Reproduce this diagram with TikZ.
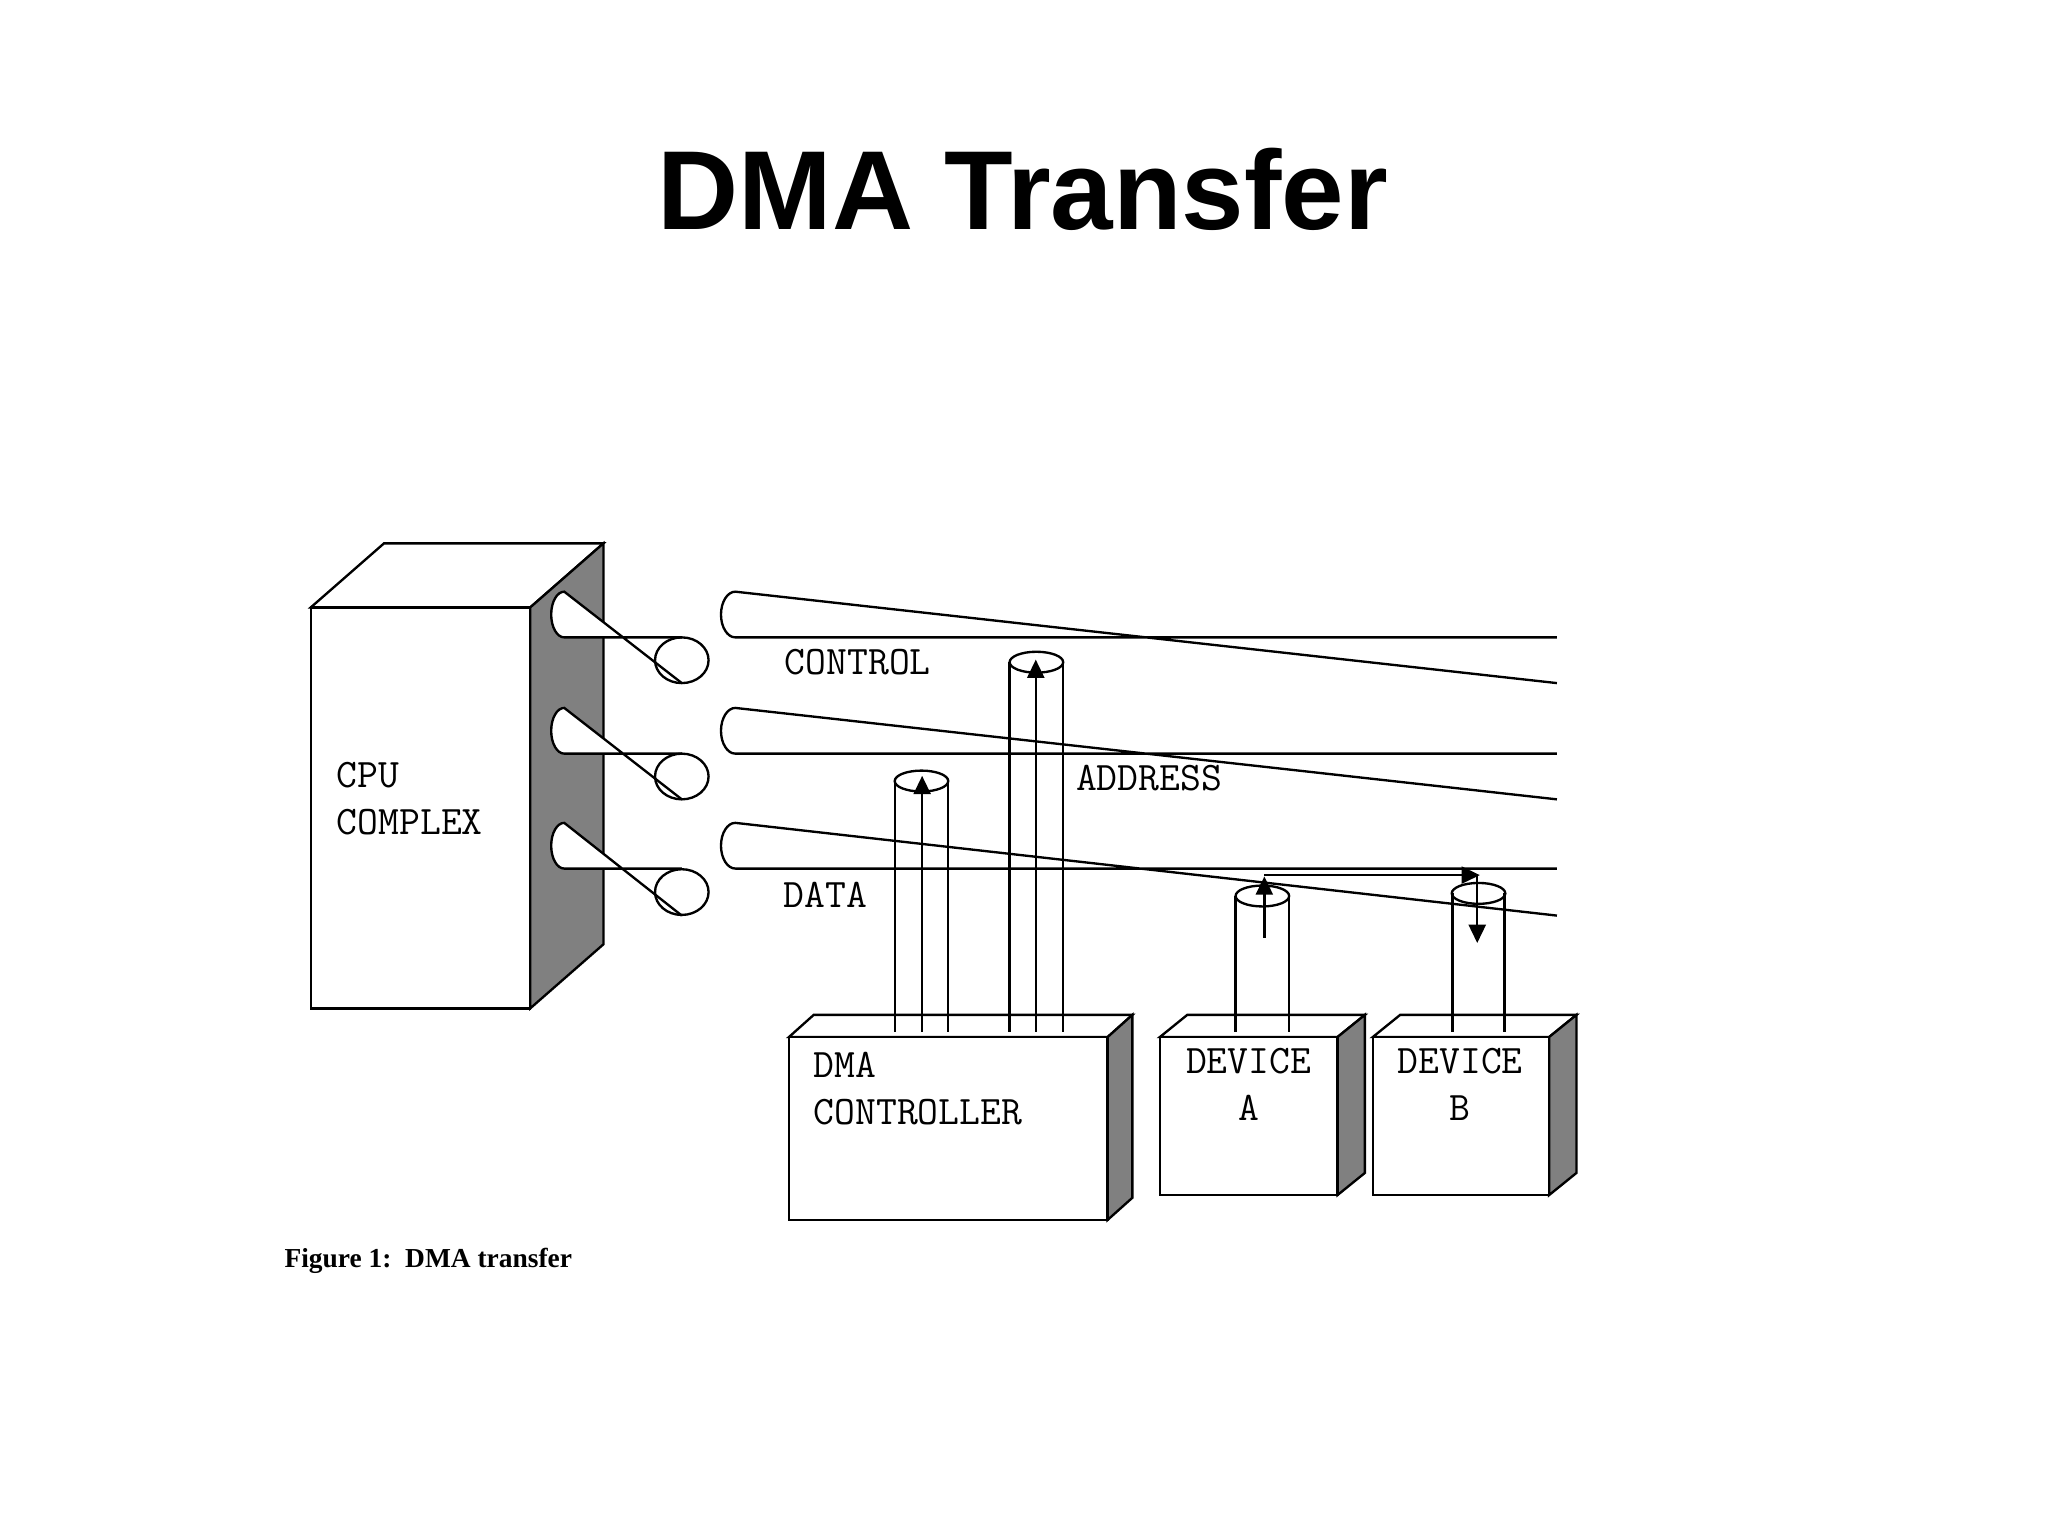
\documentclass[tikz,border=0pt]{standalone}
\usepackage{fontspec}
\newfontfamily\titlef{Liberation Sans}
\newfontfamily\capf{Liberation Serif}
\usetikzlibrary{arrows.meta}
\begin{document}
\begin{tikzpicture}[x=0.5pt,y=-0.5pt,line width=0.9pt,
  lbl/.style={font=\fontsize{15.5}{18}\selectfont\ttfamily,inner sep=0pt,align=left},
  side/.style={fill=gray,draw=black},
  arr/.style={-{Triangle[width=6.5pt,length=7pt]}}]
\useasboundingbox (0,0) rectangle (1568,1176);
\node[font=\fontsize{43}{50}\selectfont\titlef\bfseries] (title) at (783,145) {DMA Transfer};
% boxes: front rect + top + side
\newcommand\mybox[6]{% x1 y1 x2 y2 dx dy
  \draw[fill=white] (#1,#2) -- ++(#5,#6) -- (#3+#5,#2+#6) -- (#3,#2) -- cycle;
  \draw[side] (#3,#2) -- (#3+#5,#2+#6) -- (#3+#5,#4+#6) -- (#3,#4) -- cycle;
  \draw[fill=white] (#1,#2) rectangle (#3,#4);}
\mybox{238}{465}{406}{772}{56}{-49}
\mybox{604}{794}{848}{934}{19}{-17}
\mybox{888}{794}{1024}{915}{21}{-17}
\mybox{1051}{794}{1186}{915}{21}{-17}
% buses
\foreach \yt/\yb in {488/523,577/612,665/701}{
  \draw[fill=white] (522,\yt) -- (432,\yt) arc[start angle=90,end angle=270,x radius=10,y radius=17.5] -- (522,\yb);
  \draw (522,\yt/2+\yb/2) ellipse[x radius=20.5,y radius=17.5];
  \draw (1192,\yt) -- (563,\yt) arc[start angle=90,end angle=270,x radius=11,y radius=17.5] -- (1192,\yb);
}
% vertical cylinders
\foreach \xl/\xr/\ye/\yb in {685/726/598/790, 773/814/507/790, 946/987/686/790, 1112/1152/684/790}{
  \draw (\xl,\ye) -- (\xl,\yb) (\xr,\ye) -- (\xr,\yb);
  \draw (\xl/2+\xr/2,\ye) ellipse[x radius=20.5,y radius=8];
}
\coordinate (d1b) at (706,790); \coordinate (d1t) at (706,594);
\coordinate (d2b) at (793,790); \coordinate (d2t) at (793,505);
\coordinate (ab) at (968,718); \coordinate (at) at (968,671);
\coordinate (hs) at (968,670); \coordinate (he) at (1133,670);
\coordinate (bs) at (1131,670); \coordinate (be) at (1131,722);
\draw[arr] (d1b) -- (d1t);
\draw[arr] (d2b) -- (d2t);
\draw[arr] (ab) -- (at);
\draw[arr] (hs) -- (he);
\draw[arr] (bs) -- (be);
% labels
\node[lbl,anchor=west] (ctl) at (600,507) {CONTROL};
\node[lbl,anchor=west] (adr) at (823,596) {ADDRESS};
\node[lbl,anchor=west] (dat) at (599,685) {DATA};
\node[lbl,anchor=north west] (cpu) at (257,583) {CPU\\COMPLEX};
\node[lbl,anchor=north west] (dma) at (622,805) {DMA\\CONTROLLER};
\node[lbl,anchor=north,align=center] (da) at (956,802) {DEVICE\\A};
\node[lbl,anchor=north,align=center] (db) at (1118,802) {DEVICE\\B};
\node[font=\fontsize{10.5}{12}\selectfont\capf\bfseries,anchor=west,inner sep=0pt] (cap) at (217,965) {Figure 1:\ \ DMA transfer};
\end{tikzpicture}
\end{document}
